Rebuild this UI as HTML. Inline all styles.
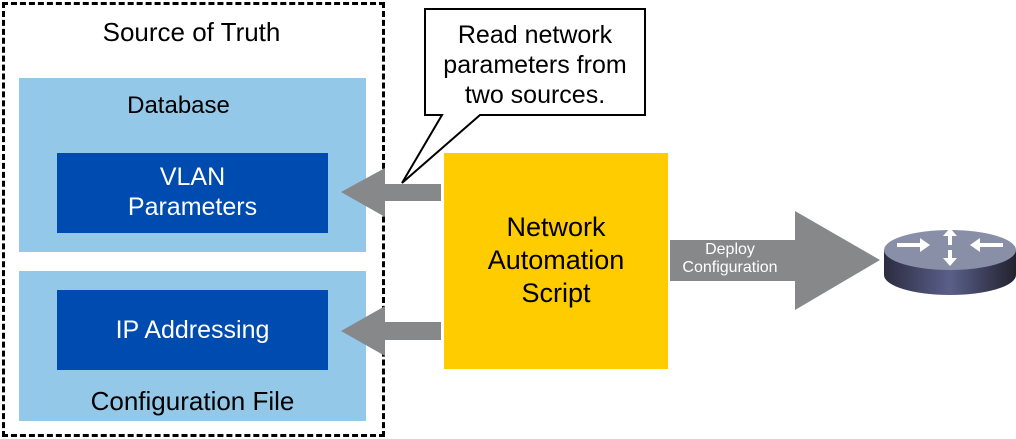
<!DOCTYPE html>
<html><head><style>
body{margin:0;width:1016px;height:439px;background:#fff;position:relative;overflow:hidden;font-family:"Liberation Sans",sans-serif}
div{position:absolute;box-sizing:border-box}
.t{text-align:center;color:#000}
</style></head><body>
<div style="left:2px;top:2px;width:383px;height:435px;border:3px dashed #000"></div>
<div class="t" style="left:0px;top:17px;width:383px;font-size:26px">Source of Truth</div>
<div style="left:19px;top:78px;width:347px;height:174px;background:#94c8e8"></div>
<div class="t" style="left:5px;top:92px;width:347px;font-size:24px">Database</div>
<div style="left:57px;top:153px;width:271px;height:80px;background:#004bb0;color:#fff;text-align:center;font-size:25px;line-height:30px;padding-top:9px">VLAN<br>Parameters</div>
<div style="left:19px;top:271px;width:347px;height:150px;background:#94c8e8"></div>
<div style="left:57px;top:290px;width:271px;height:80px;background:#004bb0;color:#fff;text-align:center;font-size:25px;line-height:80px">IP Addressing</div>
<div class="t" style="left:19px;top:386px;width:347px;font-size:26px">Configuration File</div>
<div style="left:444px;top:153px;width:224px;height:216px;background:#ffcc00;text-align:center;font-size:27px;line-height:33px;padding-top:58px">Network<br>Automation<br>Script</div>
<svg width="1016" height="439" style="position:absolute;left:0;top:0">
<polygon points="441,184 385,184 385,168 341,192 385,217 385,201 441,201" fill="#87888a"/>
<polygon points="441,322 385,322 385,306 341,331 385,356 385,340 441,340" fill="#87888a"/>
<polygon points="670,240 795,240 795,211 880,260 795,310 795,281 670,281" fill="#87888a"/>
<polygon points="425,9 645,9 645,115 480,115 402,183 442,115 425,115" fill="#fff" stroke="#000" stroke-width="2"/>
<defs><linearGradient id="g" x1="0" x2="1"><stop offset="0" stop-color="#2c2d40"/><stop offset="0.5" stop-color="#5a5f8a"/><stop offset="1" stop-color="#22222e"/></linearGradient></defs>
<path d="M884,250 L884,275 A66,20 0 0 0 1016,275 L1016,250 Z" fill="url(#g)"/>
<ellipse cx="950" cy="250" rx="66" ry="20" fill="#8a8fa8"/>
<g stroke="#fff" stroke-width="4" fill="#fff">
<line x1="897" y1="245" x2="925" y2="245"/><polygon points="930,245 920,238 920,252" stroke="none"/>
<line x1="1003" y1="245" x2="975" y2="245"/><polygon points="970,245 980,238 980,252" stroke="none"/>
<line x1="950" y1="245" x2="950" y2="232"/><polygon points="950,228 943,236 957,236" stroke="none"/>
<line x1="950" y1="250" x2="950" y2="262"/><polygon points="950,266 943,258 957,258" stroke="none"/>
</g>
</svg>
<div class="t" style="left:425px;top:20px;width:220px;font-size:25px;line-height:30px">Read network<br>parameters from<br>two sources.</div>
<div style="left:668px;top:241px;width:124px;text-align:center;color:#fff;font-size:16px;line-height:18px">Deploy<br>Configuration</div>
</body></html>
